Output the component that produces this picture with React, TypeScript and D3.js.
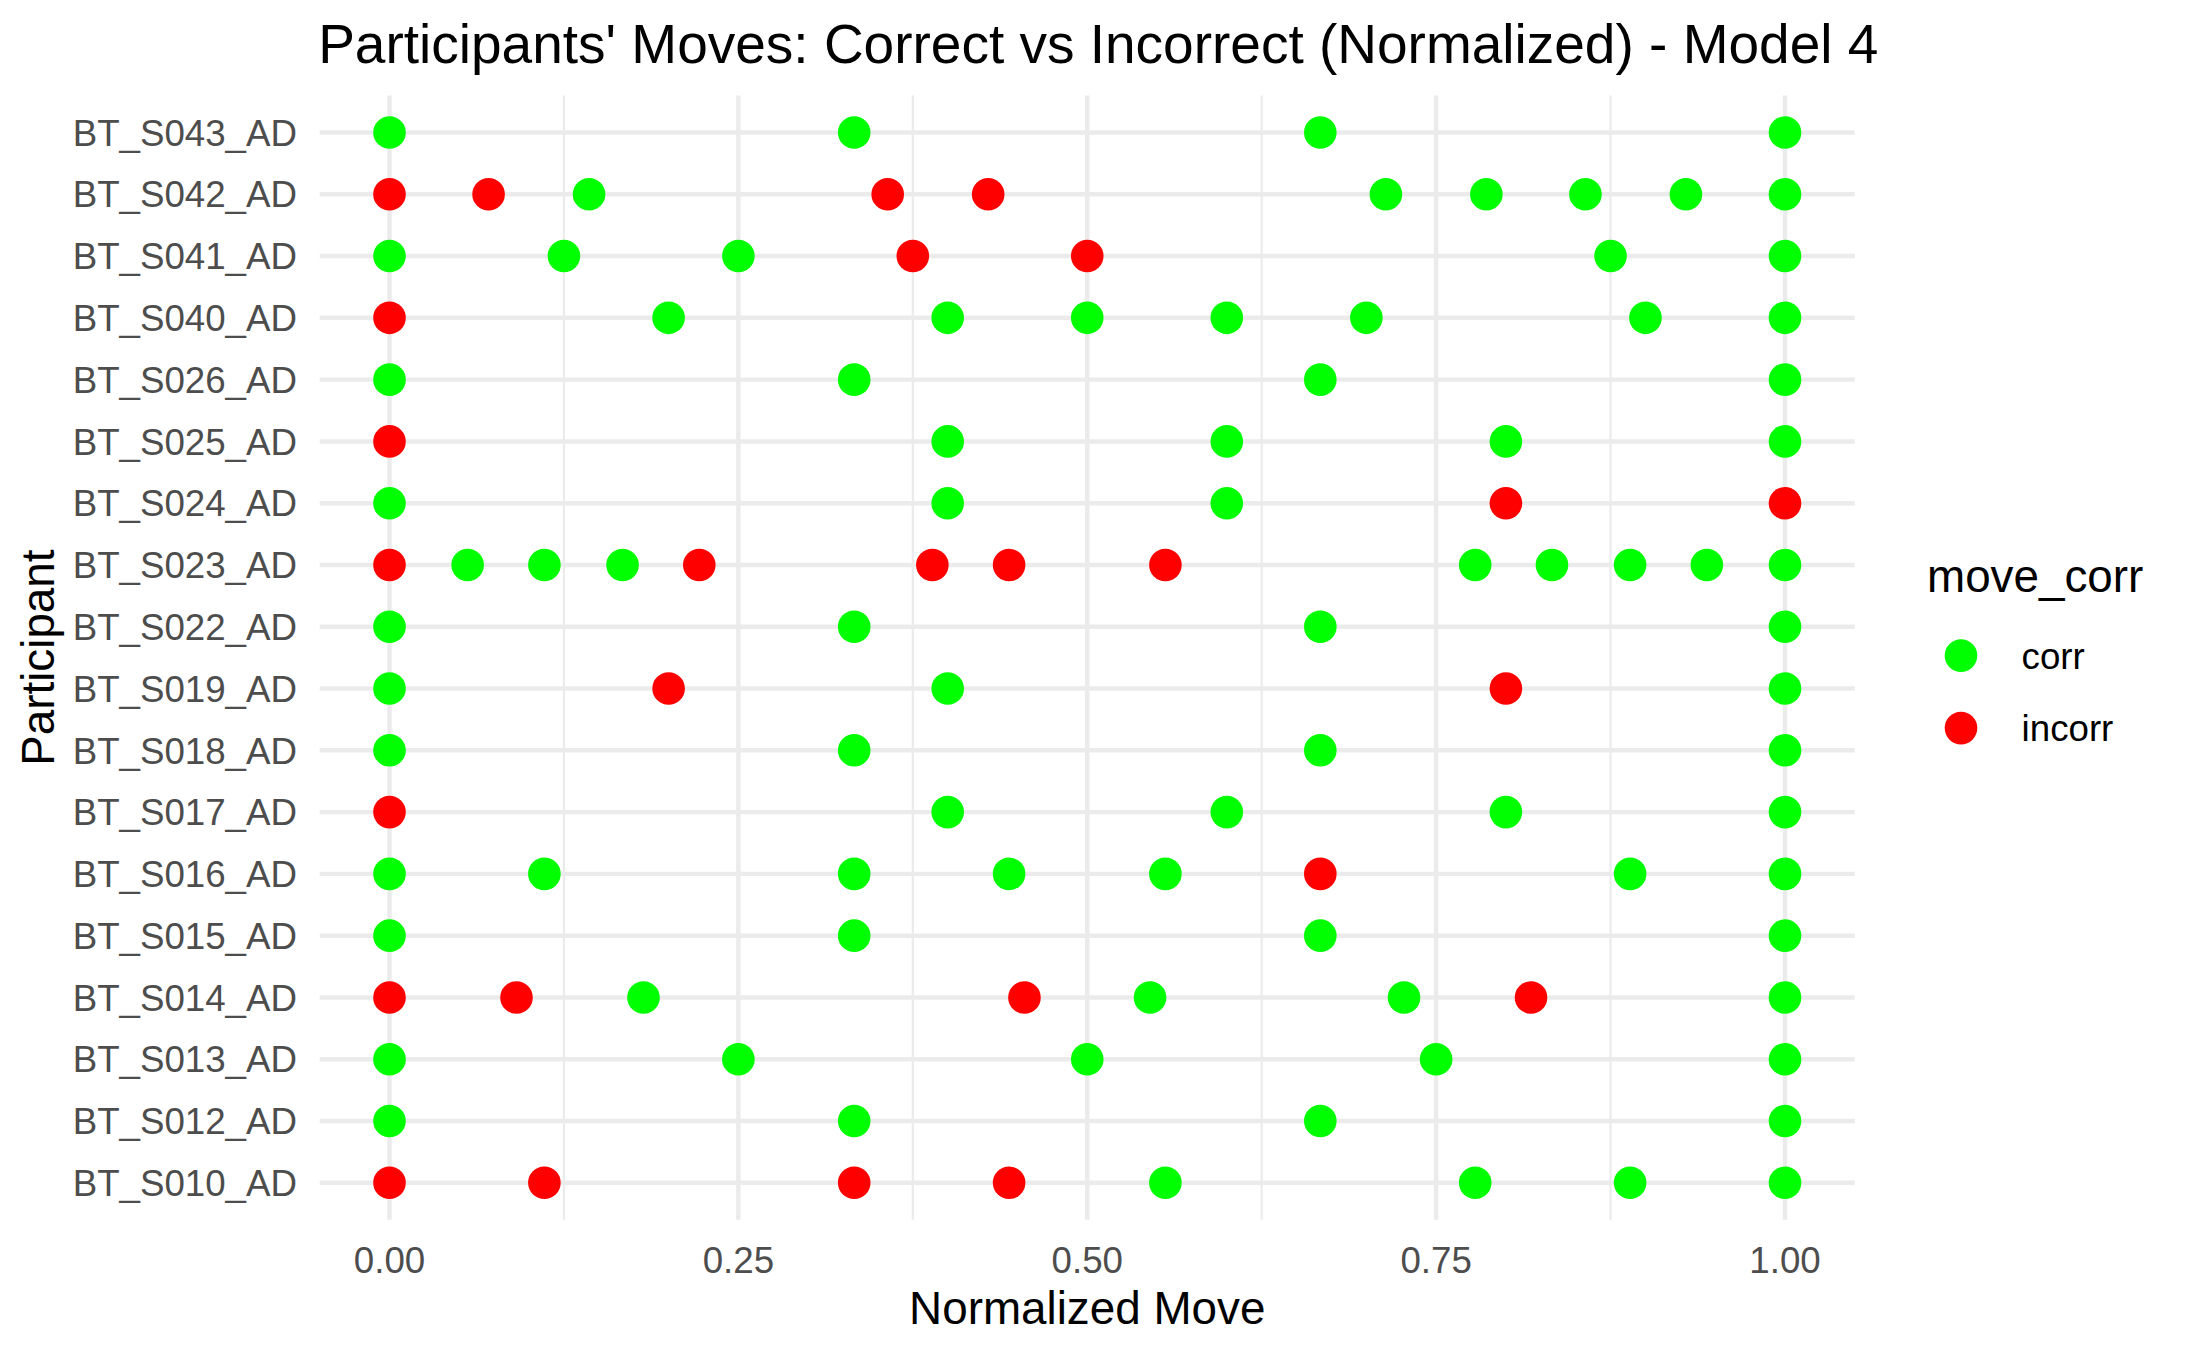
import React from "react";
import { scaleLinear, scalePoint, format } from "d3";

// participants, bottom to top as in the plot
const participants = [
  "BT_S010_AD", "BT_S012_AD", "BT_S013_AD", "BT_S014_AD", "BT_S015_AD",
  "BT_S016_AD", "BT_S017_AD", "BT_S018_AD", "BT_S019_AD", "BT_S022_AD",
  "BT_S023_AD", "BT_S024_AD", "BT_S025_AD", "BT_S026_AD", "BT_S040_AD",
  "BT_S041_AD", "BT_S042_AD", "BT_S043_AD",
];

// normalized move positions per participant (same order as above)
const normMoves: number[][] = [
  [0, 0.111, 0.333, 0.444, 0.556, 0.778, 0.889, 1],
  [0, 0.333, 0.667, 1],
  [0, 0.25, 0.5, 0.75, 1],
  [0, 0.091, 0.182, 0.455, 0.545, 0.727, 0.818, 1],
  [0, 0.333, 0.667, 1],
  [0, 0.111, 0.333, 0.444, 0.556, 0.667, 0.889, 1],
  [0, 0.4, 0.6, 0.8, 1],
  [0, 0.333, 0.667, 1],
  [0, 0.2, 0.4, 0.8, 1],
  [0, 0.333, 0.667, 1],
  [0, 0.056, 0.111, 0.167, 0.222, 0.389, 0.444, 0.556, 0.778, 0.833, 0.889, 0.944, 1],
  [0, 0.4, 0.6, 0.8, 1],
  [0, 0.4, 0.6, 0.8, 1],
  [0, 0.333, 0.667, 1],
  [0, 0.2, 0.4, 0.5, 0.6, 0.7, 0.9, 1],
  [0, 0.125, 0.25, 0.375, 0.5, 0.875, 1],
  [0, 0.071, 0.143, 0.357, 0.429, 0.714, 0.786, 0.857, 0.929, 1],
  [0, 0.333, 0.667, 1],
];

// "c" = corr, "i" = incorr, aligned with normMoves
const moveCorr: string[][] = [
  ["i", "i", "i", "i", "c", "c", "c", "c"],
  ["c", "c", "c", "c"],
  ["c", "c", "c", "c", "c"],
  ["i", "i", "c", "i", "c", "c", "i", "c"],
  ["c", "c", "c", "c"],
  ["c", "c", "c", "c", "c", "i", "c", "c"],
  ["i", "c", "c", "c", "c"],
  ["c", "c", "c", "c"],
  ["c", "i", "c", "i", "c"],
  ["c", "c", "c", "c"],
  ["i", "c", "c", "c", "i", "i", "i", "i", "c", "c", "c", "c", "c"],
  ["c", "c", "c", "i", "i"],
  ["i", "c", "c", "c", "c"],
  ["c", "c", "c", "c"],
  ["i", "c", "c", "c", "c", "c", "c", "c"],
  ["c", "c", "c", "i", "i", "c", "c"],
  ["i", "i", "c", "i", "i", "c", "c", "c", "c", "c"],
  ["c", "c", "c", "c"],
];

const xTicks = [0, 0.25, 0.5, 0.75, 1];
const xMinor = [0.125, 0.375, 0.625, 0.875];
const legendKeys = ["corr", "incorr"];
const colors: Record<string, string> = { c: "#00FF00", i: "#FF0000", corr: "#00FF00", incorr: "#FF0000" };

const W = 2187;
const H = 1350;
const FONT = "'Liberation Sans', Arial, Helvetica, sans-serif";

export default function App() {
  const x = scaleLinear().domain([0, 1]).range([389.5, 1785]);
  const y = scalePoint<string>()
    .domain([...participants].reverse())
    .range([132.5, 1182.8]);
  const step = y.step();
  const panelL = x(-0.05);
  const panelR = x(1.05);
  const panelT = y(participants[participants.length - 1])! - 0.6 * step;
  const panelB = y(participants[0])! + 0.6 * step;
  const fmt = format(".2f");
  const r = 16.3;

  const points: { px: number; py: number; col: string; key: string }[] = [];
  participants.forEach((p, i) => {
    normMoves[i].forEach((v, j) => {
      points.push({ px: x(v), py: y(p)!, col: colors[moveCorr[i][j]], key: `${p}-${j}` });
    });
  });

  return (
    <svg
      width={W}
      height={H}
      style={{ position: "absolute", left: 0, top: 0, background: "#fff" }}
      fontFamily={FONT}
    >
      <rect width={W} height={H} fill="#fff" />
      {/* grid */}
      {xMinor.map((t) => (
        <line key={"mn" + t} x1={x(t)} x2={x(t)} y1={panelT} y2={panelB} stroke="#EBEBEB" strokeWidth={2.2} />
      ))}
      {xTicks.map((t) => (
        <line key={"mj" + t} x1={x(t)} x2={x(t)} y1={panelT} y2={panelB} stroke="#EBEBEB" strokeWidth={4.45} />
      ))}
      {participants.map((p) => (
        <line key={"hy" + p} x1={panelL} x2={panelR} y1={y(p)} y2={y(p)} stroke="#EBEBEB" strokeWidth={4.45} />
      ))}
      {/* points */}
      {points.map((d) => (
        <circle key={d.key} cx={d.px} cy={d.py} r={r} fill={d.col} />
      ))}
      {/* y axis labels */}
      {participants.map((p) => (
        <text key={"yl" + p} x={297} y={y(p)! + 13.2} textAnchor="end" fontSize={36.7} fill="#4D4D4D">
          {p}
        </text>
      ))}
      {/* x axis labels */}
      {xTicks.map((t) => (
        <text key={"xl" + t} x={x(t)} y={1273} textAnchor="middle" fontSize={36.7} fill="#4D4D4D">
          {fmt(t)}
        </text>
      ))}
      <text x={(panelL + panelR) / 2} y={1324} textAnchor="middle" fontSize={45.8} fill="#000">
        Normalized Move
      </text>
      <text
        transform={`translate(53.5, ${(panelT + panelB) / 2}) rotate(-90)`}
        textAnchor="middle"
        fontSize={45.8}
        fill="#000"
      >
        Participant
      </text>
      {/* title */}
      <text x={(panelL + panelR) / 2 + 11} y={62.7} textAnchor="middle" fontSize={55} fill="#000">
        Participants' Moves: Correct vs Incorrect (Normalized) - Model 4
      </text>
      {/* legend */}
      <text x={1927} y={592} fontSize={45.8} fill="#000">
        move_corr
      </text>
      {legendKeys.map((k, i) => (
        <g key={k}>
          <circle cx={1961} cy={655.6 + i * 72.5} r={r} fill={colors[k]} />
          <text x={2021.6} y={668.7 + i * 72.5} fontSize={36.7} fill="#000">
            {k}
          </text>
        </g>
      ))}
    </svg>
  );
}
